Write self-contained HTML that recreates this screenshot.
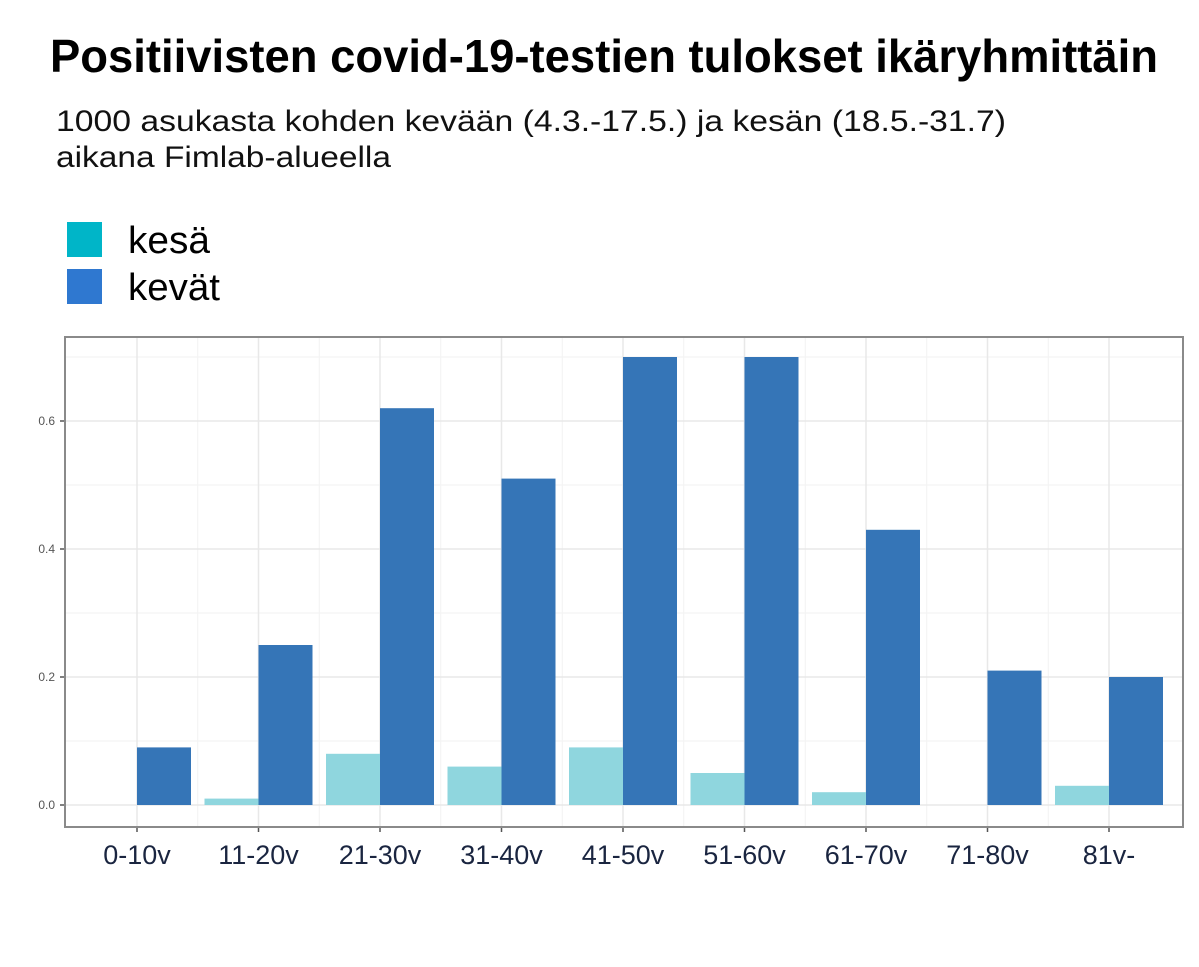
<!DOCTYPE html>
<html><head><meta charset="utf-8"><style>
html,body{margin:0;padding:0;background:#fff;width:1199px;height:967px;overflow:hidden}
svg{display:block}
</style></head><body>
<svg id="chart" width="1199" height="967" xmlns="http://www.w3.org/2000/svg" font-family="'Liberation Sans Narrow','Liberation Sans',sans-serif">
<text x="50" y="72" font-size="46" font-weight="bold" fill="#000" textLength="1108" lengthAdjust="spacingAndGlyphs">Positiivisten covid-19-testien tulokset ikäryhmittäin</text>
<text x="56" y="131" font-size="30" fill="#111" textLength="950" lengthAdjust="spacingAndGlyphs">1000 asukasta kohden kevään (4.3.-17.5.) ja kesän (18.5.-31.7)</text>
<text x="56" y="167" font-size="30" fill="#111" textLength="335" lengthAdjust="spacingAndGlyphs">aikana Fimlab-alueella</text>
<g>
<rect x="67" y="222" width="35" height="35" fill="#00b5c8"/>
<text x="128" y="253" font-size="38" fill="#000" textLength="82" lengthAdjust="spacingAndGlyphs">kesä</text>
<rect x="67" y="269" width="35" height="35" fill="#2f78d0"/>
<text x="128" y="300" font-size="38" fill="#000" textLength="92" lengthAdjust="spacingAndGlyphs">kevät</text>
</g>
<g id="plot"></g>
</svg>
<script>
const categories = ["0-10v","11-20v","21-30v","31-40v","41-50v","51-60v","61-70v","71-80v","81v-"];
const kesaValues = [0, 0.01, 0.08, 0.06, 0.09, 0.05, 0.02, 0, 0.03];
const kevatValues = [0.09, 0.25, 0.62, 0.51, 0.70, 0.70, 0.43, 0.21, 0.20];
const yTicks = [0, 0.2, 0.4, 0.6];
const yTickLabels = ["0.0","0.2","0.4","0.6"];

const NS = "http://www.w3.org/2000/svg";
const g = document.getElementById("plot");
const L = 65, R = 1183, T = 337, B = 827;
const y0 = 805, pxPerUnit = 640;
const x0 = 137, step = 121.5, barW = 54;
const yScale = v => y0 - v * pxPerUnit;
const xScale = i => x0 + i * step;
function mk(tag, attrs){const e=document.createElementNS(NS,tag);for(const k in attrs)e.setAttribute(k,attrs[k]);g.appendChild(e);return e;}

// minor grid
for (let v = 0.1; v < 0.75; v += 0.2) {
  const l = mk("line",{x1:L,x2:R,y1:yScale(v),y2:yScale(v),stroke:"#f2f2f2","stroke-width":1});
  
  
}
for (let i = 0; i < categories.length - 1; i++) {
  const x = xScale(i) + step / 2;
  const l = mk("line",{x1:x,x2:x,y1:T,y2:B,stroke:"#f2f2f2","stroke-width":1});
  
  
}
// major grid
yTicks.forEach((v, i) => {
  const l = mk("line",{x1:L,x2:R,y1:yScale(v),y2:yScale(v),stroke:"#e8e8e8","stroke-width":1.5});
  
  
  const t = mk("line",{x1:L-5,x2:L,y1:yScale(v),y2:yScale(v),stroke:"#555","stroke-width":1.5});
  
  
  const tx = mk("text",{x:L-10,y:yScale(v)+4,"text-anchor":"end","font-size":12,fill:"#555","font-family":"'Liberation Sans',sans-serif"});
  tx.textContent = yTickLabels[i];
  
  
});
categories.forEach((c, i) => {
  const x = xScale(i);
  const l = mk("line",{x1:x,x2:x,y1:T,y2:B,stroke:"#e8e8e8","stroke-width":1.5});
  
  
});
// bars
categories.forEach((c, i) => {
  const x = xScale(i);
  const hk = kesaValues[i] * pxPerUnit;
  const b1 = mk("rect",{x:x-barW,y:yScale(kesaValues[i]),width:barW,height:hk,fill:"#8fd6de"});
  
  
  const hv = kevatValues[i] * pxPerUnit;
  const b2 = mk("rect",{x:x,y:yScale(kevatValues[i]),width:barW,height:hv,fill:"#3575b7"});
  
  
  const t = mk("line",{x1:x,x2:x,y1:B,y2:B+5,stroke:"#555","stroke-width":1.5});
  
  
  const tx = mk("text",{x:x,y:B+37,"text-anchor":"middle","font-size":27,fill:"#1a2540"});
  tx.textContent = c;
  
  
});
// panel border
const border = mk("rect",{x:L,y:T,width:R-L,height:B-T,fill:"none",stroke:"#8a8a8a","stroke-width":2});


</script>
</body></html>
